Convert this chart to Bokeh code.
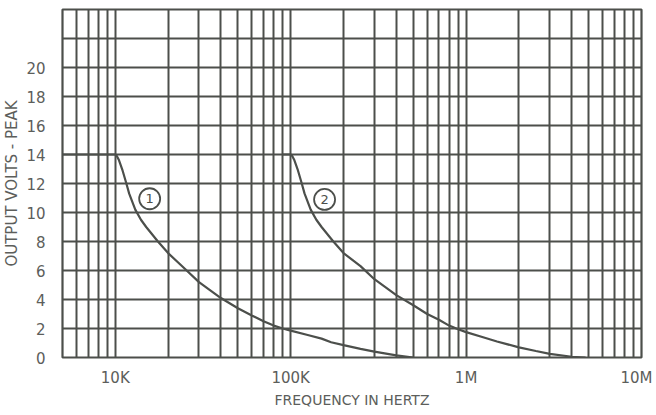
from bokeh.plotting import figure
from bokeh.models import FixedTicker
from bokeh.core.properties import value
from bokeh.embed import file_html
from bokeh.resources import INLINE

# ---- data ----
freq1 = [5000, 9000, 10000, 10200, 10500, 11000, 11500, 12000, 13000, 14000, 15000,
         17500, 20000, 25000, 30000, 40000, 50000, 60000, 70000, 80000, 90000,
         100000, 125000, 150000, 170000, 200000, 250000, 300000, 400000, 500000]
volts1 = [14, 14, 14, 13.9, 13.6, 12.9, 12.1, 11.3, 10.2, 9.5, 9.0,
          8.0, 7.2, 6.1, 5.2, 4.1, 3.4, 2.9, 2.5, 2.2, 2.0,
          1.85, 1.55, 1.3, 1.05, 0.85, 0.6, 0.4, 0.15, 0.0]
freq2 = [90000, 100000, 102000, 105000, 110000, 115000, 120000, 130000, 140000, 150000,
         175000, 200000, 250000, 300000, 400000, 500000, 600000, 700000, 800000,
         900000, 1000000, 1250000, 1500000, 2000000, 2500000, 3000000, 4000000, 4800000]
volts2 = [14, 14, 13.9, 13.6, 12.9, 12.1, 11.3, 10.2, 9.5, 9.0,
          8.0, 7.2, 6.3, 5.4, 4.3, 3.6, 3.0, 2.6, 2.2,
          1.95, 1.75, 1.4, 1.1, 0.7, 0.45, 0.25, 0.05, 0.0]
curve_ids = ["1", "2"]
curve_label_x = [15700, 156000]
curve_label_y = [10.95, 10.9]

x_tick_vals = [10000, 100000, 1000000, 10000000]
x_tick_text = ["10K", "100K", "1M", "10M"]
y_tick_vals = [0, 2, 4, 6, 8, 10, 12, 14, 16, 18, 20, 22, 24]
y_tick_text = ["0", "2", "4", "6", "8", "10", "12", "14", "16", "18", "20", "", ""]
x_grid_vals = [m * 10 ** e for e in range(3, 7) for m in range(1, 10)] + [10 ** 7]

INK = "#4c4f4b"
TXT = "#5c5e5b"
FONT = "DejaVu Sans"

p = figure(width=656, height=413, x_axis_type="log",
           x_range=(5000, 10000000), y_range=(0, 24),
           output_backend="svg", toolbar_location=None,
           min_border_left=62, min_border_right=15, min_border_top=9,
           min_border_bottom=56)
p.background_fill_color = "white"
p.border_fill_color = "white"
p.outline_line_color = INK
p.outline_line_width = 2.2

# grid
p.xgrid.ticker = FixedTicker(ticks=x_grid_vals)
p.ygrid.ticker = FixedTicker(ticks=y_tick_vals)
for g in (p.xgrid, p.ygrid):
    g.grid_line_color = INK
    g.grid_line_width = 2
    g.grid_line_alpha = 1.0

# y axis
p.yaxis.ticker = FixedTicker(ticks=y_tick_vals)
p.yaxis.major_label_overrides = {v: t for v, t in zip(y_tick_vals, y_tick_text)}
p.yaxis.axis_line_color = None
p.yaxis.major_tick_line_color = None
p.yaxis.minor_tick_line_color = None
p.yaxis.major_label_standoff = 11
p.yaxis.major_label_text_font = FONT
p.yaxis.major_label_text_font_size = "15px"
p.yaxis.major_label_text_color = TXT
p.yaxis.axis_label = "OUTPUT VOLTS - PEAK"
p.yaxis.axis_label_text_font = FONT
p.yaxis.axis_label_text_font_style = "normal"
p.yaxis.axis_label_text_font_size = "15px"
p.yaxis.axis_label_text_color = TXT
p.yaxis.axis_label_standoff = 2

# x axis: the last label sits a few pixels inside the right edge so it is not cut off
shift = 10 ** (-5 / 175.4)
x_label_pos = x_tick_vals[:-1] + [round(x_tick_vals[-1] * shift, -4)]
p.xaxis.ticker = FixedTicker(ticks=x_label_pos)
p.xaxis.major_label_overrides = {v: t for v, t in zip(x_label_pos, x_tick_text)}
p.xaxis.major_label_standoff = 5
p.xaxis.major_label_text_font = FONT
p.xaxis.major_label_text_font_size = "15px"
p.xaxis.major_label_text_color = TXT
p.xaxis.axis_line_color = None
p.xaxis.major_tick_line_color = None
p.xaxis.minor_tick_line_color = None
p.xaxis.axis_label = "FREQUENCY IN HERTZ"
p.xaxis.axis_label_text_font = FONT
p.xaxis.axis_label_text_font_style = "normal"
p.xaxis.axis_label_text_font_size = "14px"
p.xaxis.axis_label_text_color = TXT
p.xaxis.axis_label_standoff = 2

# curves
p.line(freq1, volts1, line_color=INK, line_width=2.2)
p.line(freq2, volts2, line_color=INK, line_width=2.2)

# circled curve numbers
p.scatter(curve_label_x, curve_label_y, marker="circle", size=21,
          fill_color="white", line_color=INK, line_width=1.8)
p.text(curve_label_x, curve_label_y, text=curve_ids, text_align="center",
       text_baseline="middle", text_font=value(FONT),
       text_font_size="13px", text_color=INK)

open("out.html", "w").write(file_html(p, INLINE))
